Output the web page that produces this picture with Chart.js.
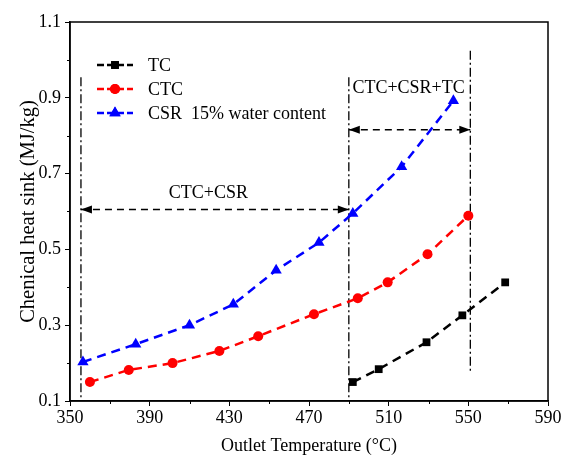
<!DOCTYPE html>
<html>
<head>
<meta charset="utf-8">
<script src="https://cdn.jsdelivr.net/npm/chart.js@4.4.0/dist/chart.umd.min.js"></script>
<style>
html,body{margin:0;padding:0;background:#fff}
</style>
</head>
<body>
<canvas id="chart" width="563" height="461"></canvas>
<script>
const tcTemp = [492, 505, 529, 547, 568.5];
const tcHeat = [0.15, 0.184, 0.255, 0.326, 0.413];
const ctcTemp = [360, 379.5, 401.5, 425, 444.5, 472.5, 494.5, 509.5, 529.5, 550];
const ctcHeat = [0.15, 0.182, 0.2, 0.232, 0.271, 0.329, 0.371, 0.413, 0.487, 0.589];
const csrTemp = [356.5, 383, 410, 432, 453.5, 475, 492, 516.5, 542.5];
const csrHeat = [0.203, 0.25, 0.3, 0.355, 0.445, 0.518, 0.595, 0.718, 0.892];

const seriesNames = ['TC', 'CTC', 'CSR  15% water content'];

// dash-dot guide lines (temperature, top, bottom)
const guideX = [355.5, 490, 551];
const guideTop = [0.954, 0.954, 1.024];
const guideBottom = [0.1, 0.1, 0.174];

// double arrows: from, to, level, label
const arrowFrom = [355.5, 490];
const arrowTo = [490, 551];
const arrowLevel = [0.605, 0.816];
const arrowText = ['CTC+CSR', 'CTC+CSR+TC'];
const arrowTextX = [419.5, 520];
const arrowTextY = [0.648, 0.925];

const FONT = 'Liberation Serif';

function pts(xs, ys) {
    return xs.map((x, i) => ({x: x, y: ys[i]}));
}

let datasets = [
    {label: seriesNames[0], data: pts(tcTemp, tcHeat), borderColor: '#000', backgroundColor: '#000',
        pointStyle: 'rect', pointRadius: 5.5},
    {label: seriesNames[1], data: pts(ctcTemp, ctcHeat), borderColor: '#ff0000', backgroundColor: '#ff0000',
        pointStyle: 'circle', pointRadius: 5},
    {label: seriesNames[2], data: pts(csrTemp, csrHeat), borderColor: '#0000ff', backgroundColor: '#0000ff',
        pointStyle: 'triangle', pointRadius: 6.5}
];
datasets.forEach(d => {
    d.showLine = true;
    d.borderWidth = 2.5;
    d.borderDash = [9, 6];
    d.pointBorderWidth = 0;
});

for (let i = 0; i < guideX.length; i++) {
    datasets.push({data: [{x: guideX[i], y: guideTop[i]}, {x: guideX[i], y: guideBottom[i]}],
        showLine: true, borderColor: '#000', borderWidth: 1.3, borderDash: [9, 3, 2, 3], pointRadius: 0});
}
for (let i = 0; i < arrowFrom.length; i++) {
    datasets.push({data: [{x: arrowFrom[i], y: arrowLevel[i]}, {x: arrowTo[i], y: arrowLevel[i]}],
        showLine: true, borderColor: '#000', borderWidth: 1.5, borderDash: [7, 5], pointRadius: 0});
}

const extras = {
    id: 'extras',
    afterDraw(chart) {
        const c = chart.ctx, a = chart.chartArea;
        const xs = chart.scales.x, ys = chart.scales.y;
        c.save();
        // frame
        c.strokeStyle = '#000';
        c.lineWidth = 1.5;
        c.strokeRect(a.left, a.top, a.right - a.left, a.bottom - a.top);
        // minor ticks
        c.lineWidth = 1;
        c.beginPath();
        for (let v = 370; v < 590; v += 40) {
            let px = Math.round(xs.getPixelForValue(v)) + 0.5;
            c.moveTo(px, a.bottom); c.lineTo(px, a.bottom + 3);
        }
        for (let v = 0.2; v < 1.1; v += 0.2) {
            let py = Math.round(ys.getPixelForValue(v)) + 0.5;
            c.moveTo(a.left, py); c.lineTo(a.left - 3, py);
        }
        c.stroke();
        // arrow heads and labels
        c.fillStyle = '#000';
        c.font = '18px "' + FONT + '"';
        c.textAlign = 'center';
        c.textBaseline = 'middle';
        for (let i = 0; i < arrowFrom.length; i++) {
            let y = ys.getPixelForValue(arrowLevel[i]);
            let x1 = xs.getPixelForValue(arrowFrom[i]), x2 = xs.getPixelForValue(arrowTo[i]);
            c.beginPath(); c.moveTo(x1, y); c.lineTo(x1 + 11, y - 4); c.lineTo(x1 + 11, y + 4); c.fill();
            c.beginPath(); c.moveTo(x2, y); c.lineTo(x2 - 11, y - 4); c.lineTo(x2 - 11, y + 4); c.fill();
            c.fillText(arrowText[i], xs.getPixelForValue(arrowTextX[i]), ys.getPixelForValue(arrowTextY[i]));
        }
        // legend
        c.textAlign = 'left';
        for (let i = 0; i < 3; i++) {
            const d = chart.data.datasets[i];
            let y = a.top + 43 + i * 24;
            let x0 = a.left + 27, x1 = a.left + 63;
            c.strokeStyle = d.borderColor;
            c.lineWidth = 2.5;
            c.setLineDash([7, 3]);
            c.beginPath(); c.moveTo(x0, y); c.lineTo(x1, y); c.stroke();
            c.setLineDash([]);
            c.fillStyle = d.backgroundColor;
            Chart.helpers.drawPoint(c, {pointStyle: d.pointStyle, radius: d.pointRadius, borderWidth: 0}, (x0 + x1) / 2, y);
            c.fill();
            c.fillStyle = '#000';
            c.fillText(d.label, a.left + 78, y + 1);
        }
        c.restore();
    }
};

let myChart = new Chart(document.getElementById('chart'), {
    type: 'scatter',
    data: {datasets: datasets},
    options: {
        responsive: false,
        animation: false,
        layout: {padding: {top: 22, right: 15, left: 16, bottom: 0}},
        plugins: {legend: {display: false}, tooltip: {enabled: false}},
        scales: {
            x: {
                type: 'linear', min: 350, max: 590,
                ticks: {stepSize: 40, color: '#000', font: {family: FONT, size: 18}, padding: 1},
                grid: {drawOnChartArea: false, tickLength: 5, color: '#000'},
                border: {color: '#000', width: 1.5},
                title: {display: true, text: 'Outlet Temperature (°C)', color: '#000', font: {family: FONT, size: 18}, padding: {top: 2}},
                afterFit: s => { s.height = 60; }
            },
            y: {
                min: 0.1, max: 1.1,
                ticks: {stepSize: 0.2, color: '#000', font: {family: FONT, size: 18}, padding: 4,
                    callback: v => v.toFixed(1)},
                grid: {drawOnChartArea: false, tickLength: 5, color: '#000'},
                border: {color: '#000', width: 1.5},
                title: {display: true, text: 'Chenical heat sink (MJ/kg)', color: '#000', font: {family: FONT, size: 20.5}, padding: 0},
                afterFit: s => { s.width = 54; }
            }
        }
    },
    plugins: [extras]
});
</script>
</body>
</html>
